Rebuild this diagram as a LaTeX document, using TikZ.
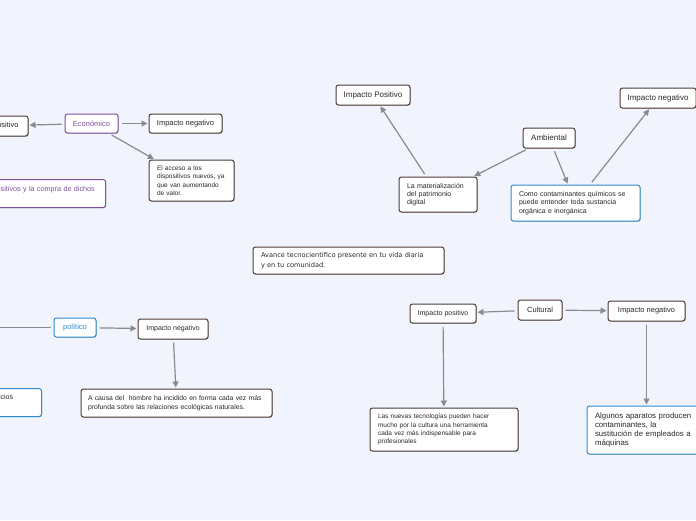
\documentclass[tikz,border=0pt]{standalone}
\usepackage{fontspec}
\setmainfont{Liberation Sans}
\newfontfamily\avancefont{DejaVu Sans}
\usetikzlibrary{arrows.meta, shadows}
\definecolor{bgblue}{RGB}{241,244,253}
\definecolor{boxbrown}{RGB}{78,61,55}
\definecolor{boxpurple}{RGB}{125,80,160}
\definecolor{boxblue}{RGB}{46,139,204}
\definecolor{linkgray}{RGB}{138,138,144}
\definecolor{txtdark}{RGB}{45,40,38}

\begin{document}
\begin{tikzpicture}[x=1pt, y=-1pt,
	box/.style={draw=boxbrown, line width=1pt, rounded corners=2.5pt, fill=white, text=txtdark, inner sep=0pt, align=left,
		drop shadow={shadow xshift=0.7pt, shadow yshift=-0.7pt, opacity=0.3, fill=black}},
	title/.style={box, align=center, font=\fontsize{7.5}{9}\selectfont},
	note/.style={box, font=\fontsize{6.5}{8.4}\selectfont},
	link/.style={draw=linkgray, line width=1.2pt, -{Triangle[length=6pt, width=6pt]}, shorten <=3pt, shorten >=1pt}]
	\useasboundingbox (0,0) rectangle (696,520);
	\clip (0,0) rectangle (696,520);
	\fill [bgblue] (0,0) rectangle (696,520);

	\node [box, font=\avancefont\fontsize{6.6}{9.5}\selectfont, minimum width=191pt, minimum height=27pt, text width=175pt] (avance) at (348.5,260.5) {Avance tecnocientífico presente en tu vida diaria\\y en tu comunidad.};

	\node [title, draw=boxpurple, text=boxpurple, minimum width=53pt, minimum height=19pt] (eco) at (91.5,123.5) {Económico};
	\node [title, minimum width=73pt, minimum height=20pt] (ecoPos) at (-8.5,126) {Impacto positivo};
	\node [title, minimum width=73pt, minimum height=19pt] (ecoNeg) at (185.5,123.5) {Impacto negativo};
	\node [note, minimum width=85pt, minimum height=41pt, text width=69pt] (ecoAcc) at (191.5,180.5) {El acceso a los\\dispositivos nuevos, ya\\que van aumentando\\de valor.};
	\node [box, draw=boxpurple, text=boxpurple, font=\fontsize{7.2}{9}\selectfont, anchor=north west, inner xsep=8pt, inner ysep=6pt, text width=114pt, text height=5.5pt, text depth=10.5pt] (ecoDis) at (-25,179) {dispositivos y la compra de dichos};

	\node [title, draw=boxblue, text=boxblue, minimum width=42pt, minimum height=19pt] (pol) at (75,327.5) {político};
	\coordinate (polOut) at (-30,327.5);
	\node [title, font=\fontsize{7}{9}\selectfont, minimum width=70pt, minimum height=20pt] (polNeg) at (173,329) {Impacto negativo};
	\node [note, font=\fontsize{6.8}{8.6}\selectfont, minimum width=191pt, minimum height=28pt, text width=177pt] (polCausa) at (176.5,403) {A causa del~ hombre ha incidido en forma cada vez más\\profunda sobre las relaciones ecológicas naturales.};
	\node [box, draw=boxblue, font=\fontsize{7}{9}\selectfont, anchor=north west, inner xsep=8pt, inner ysep=5pt, text width=52pt, text height=5.5pt, text depth=12.5pt] (polBen) at (-27,388) {beneficios};

	\node [title, font=\fontsize{8}{9}\selectfont, minimum width=52pt, minimum height=20pt] (amb) at (549,138) {Ambiental};
	\node [title, font=\fontsize{8}{9}\selectfont, minimum width=74pt, minimum height=20pt] (ambPos) at (373,95) {Impacto Positivo};
	\node [title, font=\fontsize{8}{9}\selectfont, minimum width=76pt, minimum height=20pt] (ambNeg) at (658,98) {Impacto negativo};
	\node [note, font=\fontsize{7}{8.3}\selectfont, minimum width=78pt, minimum height=35pt, text width=62pt] (ambMat) at (438,194.5) {La materialización\\del patrimonio\\digital};
	\node [note, draw=boxblue, font=\fontsize{7}{8.2}\selectfont, minimum width=129pt, minimum height=36pt, text width=113pt] (ambQui) at (575.5,203) {Como contaminantes químicos se\\puede entender toda sustancia\\orgánica e inorgánica};

	\node [title, minimum width=44pt, minimum height=20pt] (cul) at (540,310) {Cultural};
	\node [title, font=\fontsize{7}{9}\selectfont, minimum width=66pt, minimum height=19pt] (culPos) at (443,313.5) {Impacto positivo};
	\node [title, minimum width=77pt, minimum height=20pt] (culNeg) at (646.5,311) {Impacto negativo};
	\node [note, minimum width=148pt, minimum height=43pt, text width=132pt] (culNue) at (444,429.5) {Las nuevas tecnologías pueden hacer\\mucho por la cultura una herramienta\\cada vez más indispensable para\\profesionales};
	\node [note, draw=boxblue, font=\fontsize{7.8}{8.8}\selectfont, minimum width=114pt, minimum height=48pt, text width=98pt] (culApa) at (644,430) {Algunos aparatos producen\\contaminantes, la\\sustitución de empleados a\\máquinas};

	\draw [link] (eco) -- (ecoPos);
	\draw [link] (eco) -- (ecoNeg);
	\draw [link] (eco) -- (ecoAcc);
	\draw [link] (pol) -- (polOut);
	\draw [link] (pol) -- (polNeg);
	\draw [link] (polNeg) -- (polCausa);
	\draw [link] (amb) -- (ambMat);
	\draw [link] (amb) -- (ambQui);
	\draw [link] (ambMat) -- (ambPos);
	\draw [link] (ambQui) -- (ambNeg);
	\draw [link] (cul) -- (culPos);
	\draw [link] (cul) -- (culNeg);
	\draw [link] (culPos) -- (culNue);
	\draw [link] (culNeg.south) -- (culNeg.south |- culApa.north);
\end{tikzpicture}
\end{document}
